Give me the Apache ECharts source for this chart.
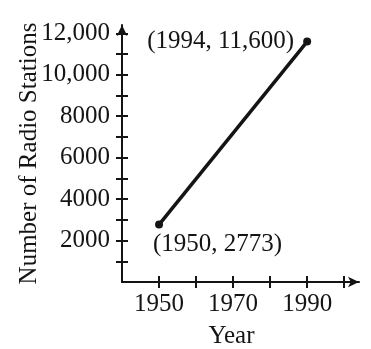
<!DOCTYPE html>
<html>
<head>
<meta charset="utf-8">
<script src="https://cdn.jsdelivr.net/npm/echarts@6/dist/echarts.min.js"></script>
<style>
  html, body { margin: 0; padding: 0; background: #fff; }
  #chart { width: 371px; height: 349px; }
</style>
</head>
<body>
<div id="chart"></div>
<script>
// point labels as printed in the figure
var labelYears = [1950, 1994];
var stations = [2773, 11600];
var labelTexts = ['(1950, 2773)', '(1994, 11,600)'];
// where the points are drawn in the figure (second point sits on the 1990 tick)
var plotYears = [1950, 1990];

var xTickValues = [1950, 1960, 1970, 1980, 1990, 2000];
var xLabelValues = [1950, 1970, 1990];
var yTickValues = [1000, 2000, 3000, 4000, 5000, 6000, 7000, 8000, 9000, 10000, 11000, 12000];
var yLabelValues = [2000, 4000, 6000, 8000, 10000, 12000];
var yLabelTexts = ['2000', '4000', '6000', '8000', '10,000', '12,000'];

var ink = '#141414';
var font = 'Liberation Serif';

var dom = document.getElementById('chart');
var chart = echarts.init(dom);

var pts = plotYears.map(function (y, i) {
    return {
        value: [y, stations[i]],
        label: i === 0
            ? { position: 'bottom', align: 'left', offset: [-6, -2] }
            : { position: 'left', distance: 9 }
    };
});

function baseX(inside, main) {
    return {
        type: 'value', min: 1940, max: 2004,
        position: 'bottom', offset: 0,
        splitLine: { show: false },
        axisLine: main ? {
            show: true, symbol: ['none', 'arrow'], symbolSize: [8, 11],
            lineStyle: { color: ink, width: 2 }
        } : { show: false },
        axisTick: { show: true, inside: inside, length: 6, customValues: xTickValues,
            lineStyle: { color: ink, width: 2 } },
        axisLabel: main ? {
            customValues: xLabelValues, margin: 10,
            fontFamily: font, fontSize: 25, color: ink,
            formatter: function (v) { return String(v); }
        } : { show: false },
        name: main ? 'Year' : '',
        nameLocation: 'middle', nameGap: 42, nameMoveOverlap: false,
        nameTextStyle: { fontFamily: font, fontSize: 25, color: ink, padding: [0, 18, 0, 0] }
    };
}

function baseY(inside, main) {
    return {
        type: 'value', min: 0, max: 12400,
        position: 'left', offset: 0,
        splitLine: { show: false },
        axisLine: main ? {
            show: true, symbol: ['none', 'arrow'], symbolSize: [8, 11],
            lineStyle: { color: ink, width: 2 }
        } : { show: false },
        axisTick: { show: true, inside: inside, length: 6, customValues: yTickValues,
            lineStyle: { color: ink, width: 2 } },
        axisLabel: main ? {
            customValues: yLabelValues, margin: 12,
            fontFamily: font, fontSize: 25, color: ink,
            formatter: function (v) {
                var k = yLabelValues.indexOf(v);
                return k >= 0 ? yLabelTexts[k] : '';
            }
        } : { show: false },
        name: main ? 'Number of Radio Stations' : '',
        nameLocation: 'middle', nameGap: 80, nameMoveOverlap: false,
        nameTextStyle: { fontFamily: font, fontSize: 25, color: ink }
    };
}

var option = {
    animation: false,
    grid: { left: 122, right: 12, top: 25, bottom: 67, containLabel: false, outerBoundsMode: 'none' },
    xAxis: [baseX(false, true), baseX(true, false)],
    yAxis: [baseY(false, true), baseY(true, false)],
    series: [{
        type: 'line',
        data: pts,
        symbol: 'circle',
        symbolSize: 8,
        itemStyle: { color: ink },
        lineStyle: { color: ink, width: 3.5 },
        label: {
            show: true,
            fontFamily: font, fontSize: 25, color: ink,
            formatter: function (p) { return labelTexts[p.dataIndex]; }
        }
    }]
};

chart.setOption(option);

window.onresize = function () { chart.resize(); };
</script>
</body>
</html>
